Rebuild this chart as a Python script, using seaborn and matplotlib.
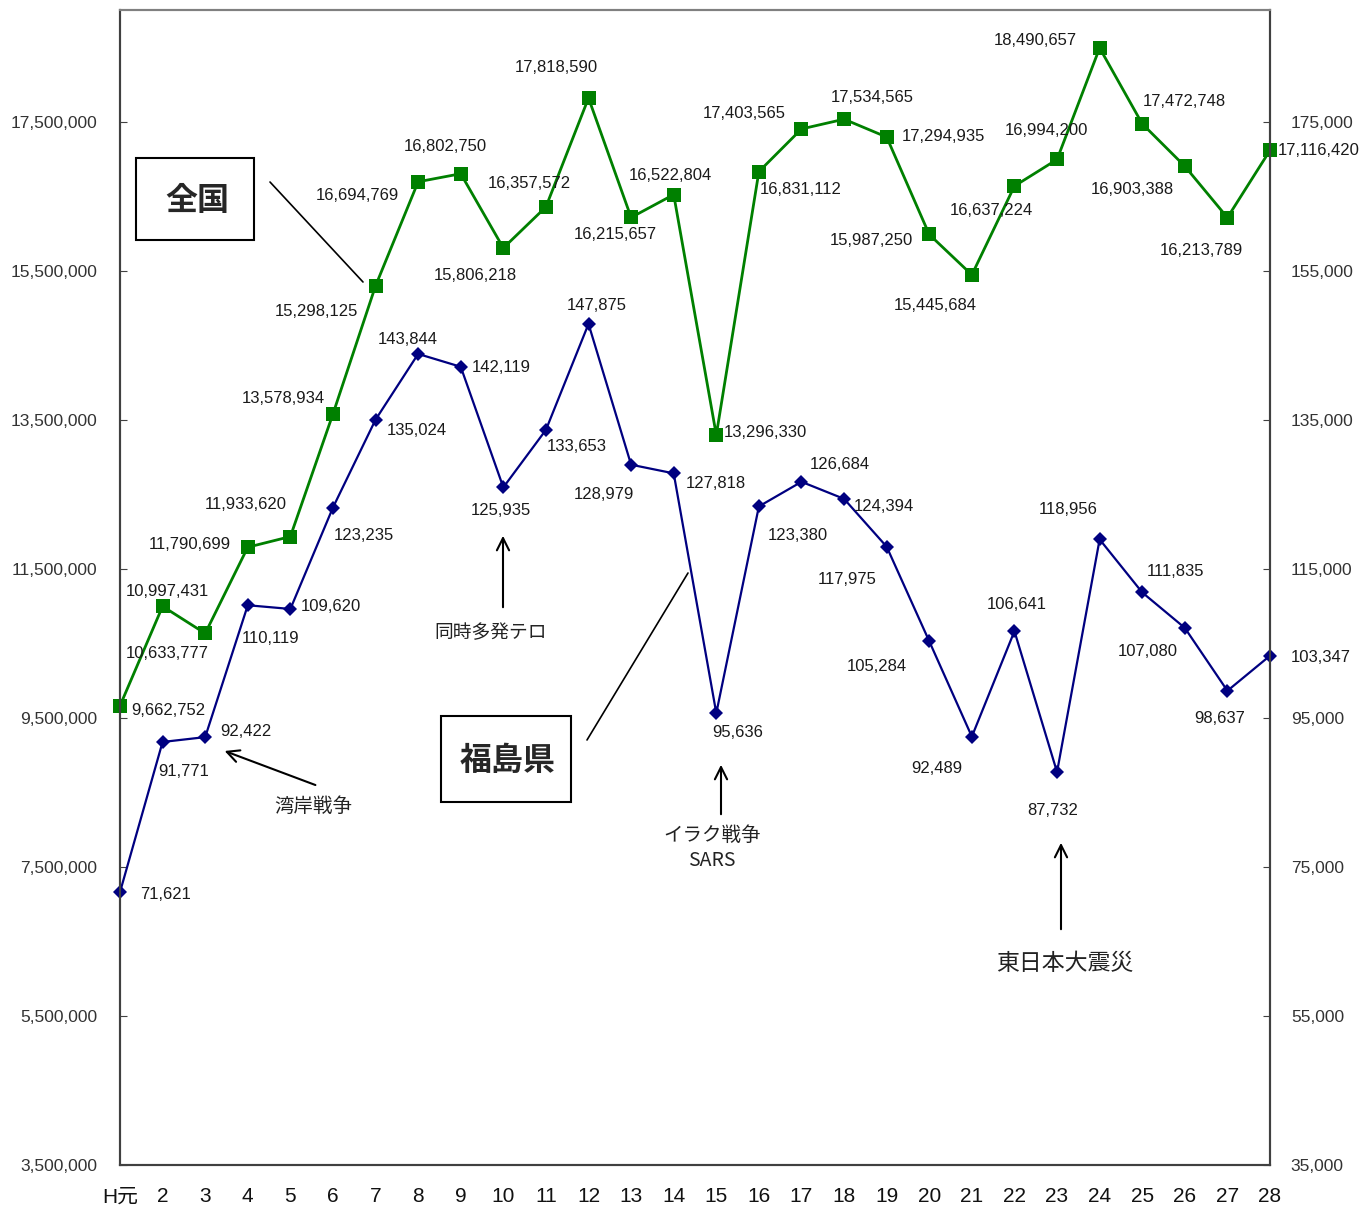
import numpy as np
import pandas as pd
import seaborn as sns
import matplotlib.pyplot as plt
from matplotlib.patches import Rectangle
from matplotlib.lines import Line2D

sns.set_style('white')
plt.rcParams['font.family'] = ['Liberation Sans', 'Noto Sans CJK JP', 'DejaVu Sans']

# data: 平成元年〜28年
years = ['H元'] + [str(i) for i in range(2, 29)]
zenkoku = [9662752, 10997431, 10633777, 11790699, 11933620, 13578934, 15298125,
           16694769, 16802750, 15806218, 16357572, 17818590, 16215657, 16522804,
           13296330, 16831112, 17403565, 17534565, 17294935, 15987250, 15445684,
           16637224, 16994200, 18490657, 17472748, 16903388, 16213789, 17116420]
fukushima = [71621, 91771, 92422, 110119, 109620, 123235, 135024, 143844, 142119,
             125935, 133653, 147875, 128979, 127818, 95636, 123380, 126684, 124394,
             117975, 105284, 92489, 106641, 87732, 118956, 111835, 107080, 98637,
             103347]

# label offsets in pixels (dx, dy) relative to each point, screen coords (y down)
off_z = [(48, 5), (5, -15), (-38, 20), (-58, -3), (-45, -32), (-50, -15), (-59, 26),
         (-61, 14), (-15, -27), (-28, 28), (-17, -23), (-32, -31), (-16, 17),
         (-3, -19), (49, -3), (42, 18), (-57, -15), (28, -22), (57, -1), (-58, 6),
         (-37, 31), (-23, 24), (-11, -29), (-64, -7), (42, -22), (-53, 23),
         (-26, 33), (49, 0)]
off_f = [(46, 2), (21, 30), (41, -6), (23, 33), (41, -2), (31, 28), (41, 11),
         (-10, -14), (41, 1), (-2, 23), (31, 17), (8, -18), (-27, 30), (42, 10),
         (21, 19), (39, 29), (38, -17), (40, 8), (-39, 33), (-52, 25), (-35, 32),
         (2, -27), (-4, 38), (-31, -30), (33, -21), (-37, 24), (-8, 28), (51, 2)]

W, H = 1370, 1208
fig = plt.figure(figsize=(W / 100, H / 100), dpi=100)
ax = fig.add_axes([120 / W, 1 - 1165 / H, 1150 / W, 1155 / H])
ax2 = ax.twinx()

x = np.arange(len(years))
df = pd.DataFrame({'x': x, 'zenkoku': zenkoku, 'fukushima': fukushima})

sns.lineplot(data=df, x='x', y='zenkoku', ax=ax, color='#008000', lw=2,
             marker='s', markersize=10, markeredgewidth=0, clip_on=False)
sns.lineplot(data=df, x='x', y='fukushima', ax=ax2, color='#000080', lw=1.6,
             marker='D', markersize=7, markeredgewidth=0, clip_on=False)

ax.set_xlim(0, len(years) - 1)
ax.set_ylim(3500000, 19000000)
ax2.set_ylim(35000, 190000)
ax.set_yticks(np.arange(3500000, 17500001, 2000000))
ax2.set_yticks(np.arange(35000, 175001, 20000))
ax.set_yticklabels([f'{v:,}' for v in ax.get_yticks().astype(int)], fontsize=12.5, color='#333333')
ax2.set_yticklabels([f'{v:,}' for v in ax2.get_yticks().astype(int)], fontsize=12.5, color='#333333')
ax.set_xticks(x)
ax.set_xticklabels(years, fontsize=15, color='#111111')
ax.set_xlabel('')
ax.set_ylabel('')
ax2.set_ylabel('')
ax.tick_params(axis='x', direction='in', length=5, color='#404040', pad=16)
ax.tick_params(axis='y', direction='in', length=5, color='#404040', pad=16.5)
ax2.tick_params(axis='y', direction='in', length=5, color='#404040', pad=15)
for a in (ax, ax2):
    for s in ['left', 'right', 'bottom']:
        a.spines[s].set_color('#404040')
        a.spines[s].set_linewidth(1.5)
    a.spines['top'].set_color('#808080')
    a.spines['top'].set_linewidth(1.5)

for i in range(len(x)):
    dx, dy = off_z[i]
    ax.annotate(f'{zenkoku[i]:,}', (x[i], zenkoku[i]), xytext=(dx, -dy),
                textcoords='offset pixels', ha='center', va='center', fontsize=12,
                color='#1a1a1a', annotation_clip=False)
    dx, dy = off_f[i]
    ax2.annotate(f'{fukushima[i]:,}', (x[i], fukushima[i]), xytext=(dx, -dy),
                 textcoords='offset pixels', ha='center', va='center', fontsize=12,
                 color='#1a1a1a', annotation_clip=False)


def fp(px, py):
    return (px / W, 1 - py / H)


# boxes
for (x0, y0, x1, y1, label) in [(136, 158, 254, 240, '全国'), (441, 716, 571, 802, '福島県')]:
    fig.patches.append(Rectangle(fp(x0, y1), (x1 - x0) / W, (y1 - y0) / H,
                                 transform=fig.transFigure, fill=False, ec='black', lw=1.5))
    fig.text(*fp((x0 + x1) / 2 + 2, (y0 + y1) / 2 + 2), label, ha='center', va='center',
             fontsize=23, fontweight='bold', family='Noto Sans CJK JP')

fig.lines.append(Line2D(*zip(fp(270, 182), fp(363, 282)), transform=fig.transFigure, color='black', lw=1.2))
fig.lines.append(Line2D(*zip(fp(587, 740), fp(688, 573)), transform=fig.transFigure, color='black', lw=1.2))

# event arrows
events = [('湾岸戦争', (318, 786), (222, 750), (313, 806), 14),
          ('同時多発テロ', (503, 610), (503, 533), (491, 633), 13.5),
          ('イラク戦争\nSARS', (721, 817), (721, 762), (712, 848), 14),
          ('東日本大震災', (1061, 932), (1061, 840), (1065, 964), 16.5)]
for label, start, end, tpos, fs in events:
    ax.annotate('', xy=fp(*end), xytext=fp(*start), xycoords='figure fraction',
                textcoords='figure fraction',
                arrowprops=dict(arrowstyle='->', color='black', lw=1.5, mutation_scale=22))
    fig.text(*fp(*tpos), label, ha='center', va='center', fontsize=fs,
             family='Noto Sans CJK JP', color='#222222', linespacing=1.2)

fig.savefig('out.png', dpi=100)
